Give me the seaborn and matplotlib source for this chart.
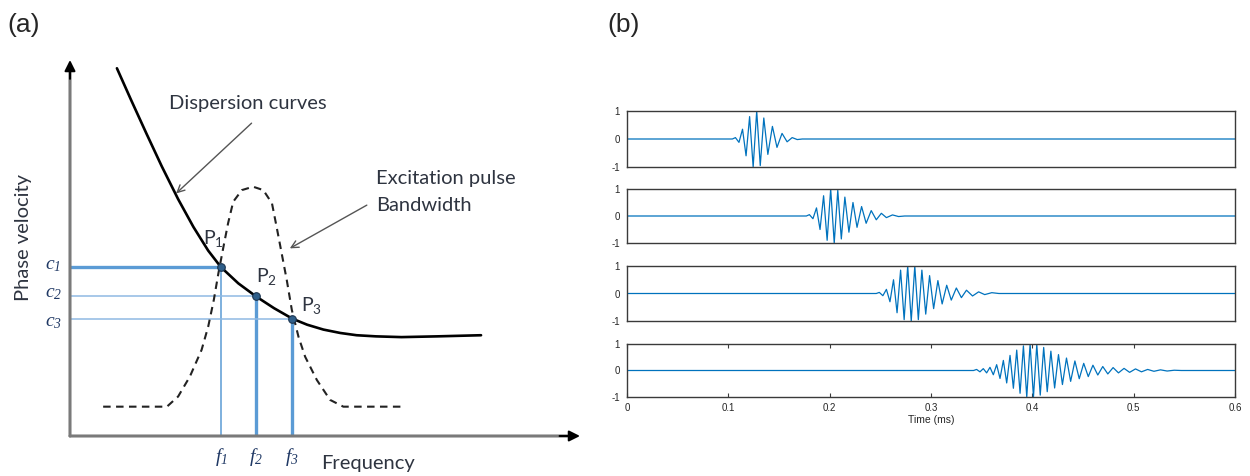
import numpy as np
import pandas as pd
import matplotlib
matplotlib.use("Agg")
import matplotlib.pyplot as plt
import seaborn as sns

# ---------------- panel (a): schematic, arbitrary units ----------------
# dispersion curve (frequency, phase velocity)
disp_f = [0.92, 1.20, 1.50, 1.80, 2.12, 2.42, 2.71, 2.96, 3.30, 3.65, 4.00, 4.36,
          4.65, 4.97, 5.30, 5.62, 6.00, 6.50, 7.20, 8.06]
disp_v = [9.78, 8.93, 8.04, 7.17, 6.30, 5.56, 4.93, 4.49, 4.06, 3.71, 3.40, 3.12,
          2.96, 2.83, 2.74, 2.68, 2.65, 2.63, 2.65, 2.68]

# excitation pulse bandwidth (dashed)
band_f = [0.65, 1.90, 2.12, 2.35, 2.58, 2.71, 2.82, 2.91, 3.01, 3.10, 3.20, 3.37,
          3.59, 3.79, 3.96, 4.05, 4.15, 4.25, 4.35, 4.48, 4.61, 4.84, 5.10, 5.36, 6.54]
band_v = [0.78, 0.78, 1.05, 1.58, 2.29, 2.91, 3.62, 4.33, 5.04, 5.66, 6.23, 6.54,
          6.63, 6.54, 6.19, 5.57, 4.86, 4.15, 3.35, 2.64, 2.11, 1.49, 0.96, 0.78, 0.78]

pt_f = [2.96, 3.65, 4.36]
pt_c = [4.49, 3.72, 3.11]
pt_labels = ["P$_1$", "P$_2$", "P$_3$"]
c_labels = ["c$_1$", "c$_2$", "c$_3$"]
f_labels = ["f$_1$", "f$_2$", "f$_3$"]

# ---------------- panel (b): received signals ----------------
time_ticks = [0, 0.1, 0.2, 0.3, 0.4, 0.5, 0.6]
amp_ticks = [-1, 0, 1]

# extrema of each wave packet (time in ms, normalised amplitude)
w1_t = [0.104, 0.107, 0.1105, 0.114, 0.1175, 0.121, 0.1245, 0.128, 0.1315, 0.135, 0.139,
        0.1435, 0.148, 0.153, 0.158, 0.163, 0.168, 0.173]
w1_a = [0.0, 0.05, -0.12, 0.35, -0.6, 0.8, -1.0, 1.0, -0.95, 0.75, -0.55,
        0.45, -0.3, 0.2, -0.1, 0.05, -0.02, 0.0]

w2_t = [0.177, 0.180, 0.1835, 0.187, 0.1905, 0.194, 0.1975, 0.201, 0.2045, 0.208, 0.2115,
        0.215, 0.219, 0.223, 0.227, 0.2315, 0.236, 0.241, 0.246, 0.251, 0.256,
        0.262, 0.268, 0.274]
w2_a = [0.0, 0.05, -0.1, 0.3, -0.5, 0.75, -0.9, 1.0, -1.0, 0.95, -0.85,
        0.7, -0.6, 0.5, -0.42, 0.35, -0.27, 0.2, -0.14, 0.1, -0.06,
        0.04, -0.02, 0.0]

w3_t = [0.246, 0.249, 0.2525, 0.256, 0.2595, 0.263, 0.2665, 0.270, 0.2735, 0.277, 0.2805,
        0.284, 0.2875, 0.291, 0.2948, 0.2986, 0.3026, 0.3068, 0.311, 0.3155, 0.320,
        0.325, 0.330, 0.335, 0.341, 0.347, 0.353, 0.360, 0.367]
w3_a = [0.0, 0.04, -0.08, 0.15, -0.3, 0.5, -0.7, 0.85, -0.95, 1.0, -1.0,
        1.0, -0.95, 0.85, -0.75, 0.65, -0.55, 0.47, -0.38, 0.3, -0.24,
        0.2, -0.15, 0.12, -0.09, 0.06, -0.04, 0.03, 0.0]

w4_t = [0.342, 0.345, 0.3483, 0.3516, 0.3549, 0.3582, 0.3615, 0.3648, 0.3681, 0.3714, 0.3747,
        0.378, 0.3813, 0.3846, 0.3879, 0.3912, 0.3945, 0.3978, 0.4011, 0.4044, 0.4078,
        0.4112, 0.4147, 0.4183, 0.422, 0.4258, 0.4297, 0.4337, 0.4378, 0.442, 0.4463,
        0.4507, 0.4552, 0.4598, 0.4646, 0.4695, 0.4745, 0.4797, 0.485, 0.4905, 0.496,
        0.5018, 0.5077, 0.5138, 0.520, 0.5265, 0.533, 0.540, 0.547]
w4_a = [0.0, 0.04, -0.05, 0.07, -0.09, 0.12, -0.16, 0.22, -0.3, 0.38, -0.47,
        0.57, -0.67, 0.77, -0.86, 0.93, -1.0, 1.0, -1.0, 0.98, -0.93,
        0.87, -0.8, 0.73, -0.66, 0.6, -0.53, 0.47, -0.41, 0.36, -0.31,
        0.27, -0.23, 0.2, -0.17, 0.15, -0.13, 0.11, -0.09, 0.08, -0.07,
        0.06, -0.05, 0.04, -0.03, 0.025, -0.02, 0.01, 0.0]

waves = [(w1_t, w1_a), (w2_t, w2_a), (w3_t, w3_a), (w4_t, w4_a)]

# --- style ---
sns.set_style("white")
plt.rcParams['font.family'] = ['Liberation Sans', 'DejaVu Sans']
plt.rcParams['mathtext.default'] = 'regular'

SKETCH_FONT = 'Lato'
TXT = '#2e3440'
BLUE = '#5b9bd5'
BLUE_LIGHT = '#8fb9e3'
WAVE = '#0072BD'

fig = plt.figure(figsize=(12.5, 4.76), dpi=100)
W, H = 1250, 476

fig.text(7 / W, 1 - 25 / H, "(a)", fontsize=19, va='center', ha='left')
fig.text(607 / W, 1 - 25 / H, "(b)", fontsize=19, va='center', ha='left')

# ===== panel (a) =====
ax = fig.add_axes([70 / W, 40 / H, 510 / W, 376 / H])
ax.set_xlim(0, 10)
ax.set_ylim(0, 10)
ax.axis('off')

# axes: grey shafts with black arrow heads
ax.annotate("", xy=(9.75, 0), xytext=(0, 0),
            arrowprops=dict(arrowstyle='-', color='#7a7a7a', lw=2.2, shrinkA=0, shrinkB=0),
            annotation_clip=False)
ax.annotate("", xy=(0, 9.75), xytext=(0, 0),
            arrowprops=dict(arrowstyle='-', color='#7a7a7a', lw=2.2, shrinkA=0, shrinkB=0),
            annotation_clip=False)
ax.annotate("", xy=(10, 0), xytext=(9.6, 0),
            arrowprops=dict(arrowstyle='-|>', color='black', lw=1.5, mutation_scale=16,
                            shrinkA=0, shrinkB=0), annotation_clip=False)
ax.annotate("", xy=(0, 10), xytext=(0, 9.5),
            arrowprops=dict(arrowstyle='-|>', color='black', lw=1.5, mutation_scale=16,
                            shrinkA=0, shrinkB=0), annotation_clip=False)

# projection lines
c_widths = [2.4, 1.1, 1.1]
c_cols = [BLUE, BLUE_LIGHT, BLUE_LIGHT]
f_widths = [1.1, 2.4, 2.4]
for i in range(3):
    ax.hlines(pt_c[i], 0, pt_f[i], color=c_cols[i], lw=c_widths[i], zorder=2)
    ax.vlines(pt_f[i], 0, pt_c[i], color=BLUE, lw=f_widths[i], zorder=2)

band = pd.DataFrame({'f': band_f, 'v': band_v})
sns.lineplot(data=band, x='f', y='v', ax=ax, color='#222222', lw=1.5,
             linestyle=(0, (3.6, 2.6)), sort=False, estimator=None, zorder=3)

disp = pd.DataFrame({'f': disp_f, 'v': disp_v})
sns.lineplot(data=disp, x='f', y='v', ax=ax, color='black', lw=1.9,
             sort=False, estimator=None, zorder=4)

pts = pd.DataFrame({'f': pt_f, 'c': pt_c})
sns.scatterplot(data=pts, x='f', y='c', ax=ax, s=30, color='#2f5f8a',
                edgecolor='#1c3550', linewidth=0.8, zorder=5)
ax.set_xlabel("")
ax.set_ylabel("")

p_off = [(-0.15, 0.77), (0.21, 0.52), (0.38, 0.36)]
for i in range(3):
    ax.text(pt_f[i] + p_off[i][0], pt_c[i] + p_off[i][1], pt_labels[i],
            family=SKETCH_FONT, fontsize=14, color=TXT, ha='center', va='center')
    ax.text(-0.33, pt_c[i] + [0.04, 0.07, -0.08][i], c_labels[i], family='Liberation Serif',
            style='italic', fontsize=14, color='#1f3864', ha='center', va='center')
    ax.text(pt_f[i], -0.56, f_labels[i], family='Liberation Serif', style='italic',
            fontsize=14, color='#1f3864', ha='center', va='center')

ax.text(5.84, -0.74, "Frequency", family=SKETCH_FONT, fontsize=14.5, color=TXT,
        ha='center', va='center')
ax.text(-0.92, 5.29, "Phase velocity", family=SKETCH_FONT, fontsize=14.5, color=TXT,
        ha='center', va='center', rotation=90)

ax.text(3.49, 8.83, "Dispersion curves", family=SKETCH_FONT, fontsize=14.5, color=TXT,
        ha='center', va='center')
ax.annotate("", xy=(2.08, 6.45), xytext=(3.56, 8.32),
            arrowprops=dict(arrowstyle='->', color='#555555', lw=1, mutation_scale=13,
                            shrinkA=0, shrinkB=0))
ax.text(6.0, 6.86, "Excitation pulse", family=SKETCH_FONT, fontsize=14.5, color=TXT,
        ha='left', va='center')
ax.text(6.0, 6.14, "Bandwidth", family=SKETCH_FONT, fontsize=14.5, color=TXT,
        ha='left', va='center')
ax.annotate("", xy=(4.31, 4.99), xytext=(5.82, 6.14),
            arrowprops=dict(arrowstyle='->', color='#555555', lw=1, mutation_scale=13,
                            shrinkA=0, shrinkB=0))

# ===== panel (b) =====
tops = [111, 189, 266, 344]
bots = [167, 243, 321, 397]
for k, (tt, aa) in enumerate(waves):
    axw = fig.add_axes([627 / W, 1 - bots[k] / H, 608 / W, (bots[k] - tops[k]) / H])
    sig = pd.DataFrame({'t': [0.0] + tt + [0.6], 'a': [0.0] + aa + [0.0]})
    sns.lineplot(data=sig, x='t', y='a', ax=axw, color=WAVE, lw=0.9,
                 sort=False, estimator=None)
    axw.set_xlim(0, 0.6)
    axw.set_ylim(-1, 1)
    axw.set_yticks(amp_ticks)
    axw.set_yticklabels([str(v) for v in amp_ticks])
    axw.set_xticks(time_ticks)
    axw.set_ylabel("")
    axw.set_xlabel("")
    for s in axw.spines.values():
        s.set_color('#3a3a3a')
        s.set_linewidth(1.0)
    axw.tick_params(axis='y', direction='in', length=0, labelsize=7, pad=5,
                    labelcolor='#262626')
    if k == 3:
        axw.set_xticklabels(["0", "0.1", "0.2", "0.3", "0.4", "0.5", "0.6"])
        axw.tick_params(axis='x', direction='in', length=3, labelsize=7, pad=4,
                        top=True, bottom=True, color='#3a3a3a', labelcolor='#262626')
        axw.set_xlabel("Time (ms)", fontsize=7.5, labelpad=2, color='#262626')
    else:
        axw.tick_params(axis='x', length=0, labelbottom=False)

fig.savefig("out.png", dpi=100)
